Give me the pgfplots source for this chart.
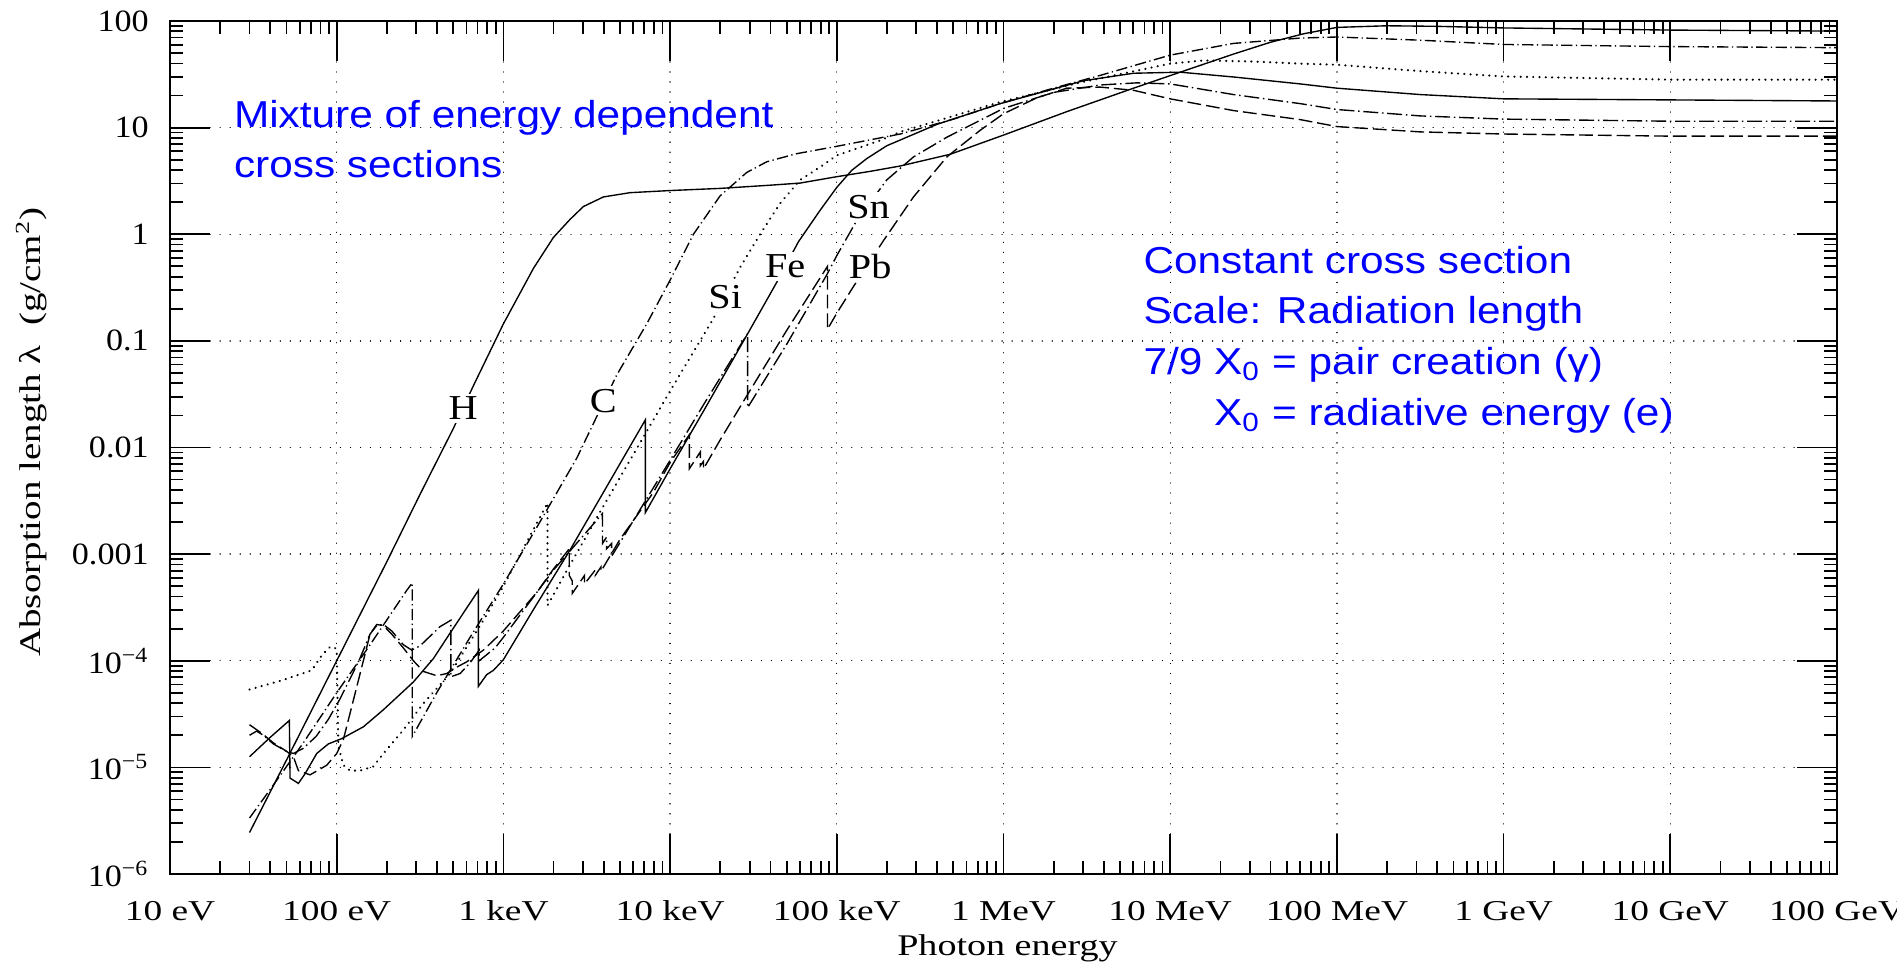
\documentclass[border=0pt]{standalone}
\usepackage{fontspec}
\setmainfont{Liberation Serif}
\newfontfamily\blsans{Liberation Sans}
\usepackage{graphicx}
\usepackage{pgfplots}
\pgfplotsset{compat=1.18}
\newcommand{\sx}[1]{\scalebox{1.3}[1]{#1}}
\newcommand{\sy}[1]{\scalebox{1.1}[1]{#1}}
\newcommand{\slab}[1]{\scalebox{1.15}[1]{#1}}
\newcommand{\sblue}[1]{\scalebox{1.13}[1]{#1}}
\begin{document}
\begin{tikzpicture}
\begin{axis}[
  name=ax, at={(0,0)}, anchor=south west,
  scale only axis, width=666.8pt, height=341.2pt,
  xmode=log, ymode=log,
  xmin=10, xmax=1e11, ymin=1e-6, ymax=100,
  xtick={1e1,1e2,1e3,1e4,1e5,1e6,1e7,1e8,1e9,1e10,1e11},
  xticklabels={\sx{10 eV},\sx{100 eV},\sx{1 keV},\sx{10 keV},\sx{100 keV},\sx{1 MeV},\sx{10 MeV},\sx{100 MeV},\sx{1 GeV},\sx{10 GeV},\sx{100 GeV}},
  ytick={1e-6,1e-5,1e-4,1e-3,1e-2,1e-1,1,10,100},
  yticklabels={\sy{10\textsuperscript{−6}},\sy{10\textsuperscript{−5}},\sy{10\textsuperscript{−4}},\sy{0.001},\sy{0.01},\sy{0.1},\sy{1},\sy{10},\sy{100}},
  xticklabel style={font=\fontsize{11.5}{13}\selectfont, anchor=base, yshift=-18.5pt},
  yticklabel style={font=\fontsize{12.4}{14}\selectfont, anchor=east, xshift=-5pt},
  tick align=inside,
  major tick length=16pt, minor tick length=5.3pt,
  every tick/.style={black, solid, line width=0.7pt},
  axis line style={line width=0.85pt},
  grid=major,
  major grid style={black, line width=0.55pt, line cap=round, dash pattern=on 0.01pt off 4pt},
]
% explicit tick marks on all four sides
\tikzset{tk/.style={black, solid, line width=0.7pt}}
\pgfplotsinvokeforeach{1e2,1e3,1e4,1e5,1e6,1e7,1e8,1e9,1e10}{
  \draw[tk] (axis cs:#1,1e-6) -- ++(0pt,16pt);
  \draw[tk] (axis cs:#1,100) -- ++(0pt,-16pt);
}
\pgfplotsinvokeforeach{20,30,40,50,60,70,80,90,200,300,400,500,600,700,800,900,
    2e3,3e3,4e3,5e3,6e3,7e3,8e3,9e3,2e4,3e4,4e4,5e4,6e4,7e4,8e4,9e4,
    2e5,3e5,4e5,5e5,6e5,7e5,8e5,9e5,2e6,3e6,4e6,5e6,6e6,7e6,8e6,9e6,
    2e7,3e7,4e7,5e7,6e7,7e7,8e7,9e7,2e8,3e8,4e8,5e8,6e8,7e8,8e8,9e8,
    2e9,3e9,4e9,5e9,6e9,7e9,8e9,9e9,2e10,3e10,4e10,5e10,6e10,7e10,8e10,9e10}{
  \draw[tk] (axis cs:#1,1e-6) -- ++(0pt,5.3pt);
  \draw[tk] (axis cs:#1,100) -- ++(0pt,-5.3pt);
}
\pgfplotsinvokeforeach{1e-5,1e-4,1e-3,1e-2,1e-1,1,10}{
  \draw[tk] (axis cs:10,#1) -- ++(16pt,0pt);
  \draw[tk] (axis cs:1e11,#1) -- ++(-16pt,0pt);
}
\pgfplotsinvokeforeach{2e-6,3e-6,4e-6,5e-6,6e-6,7e-6,8e-6,9e-6,2e-5,3e-5,4e-5,5e-5,6e-5,7e-5,8e-5,9e-5,
    2e-4,3e-4,4e-4,5e-4,6e-4,7e-4,8e-4,9e-4,2e-3,3e-3,4e-3,5e-3,6e-3,7e-3,8e-3,9e-3,
    0.02,0.03,0.04,0.05,0.06,0.07,0.08,0.09,0.2,0.3,0.4,0.5,0.6,0.7,0.8,0.9,
    2,3,4,5,6,7,8,9,20,30,40,50,60,70,80,90}{
  \draw[tk] (axis cs:10,#1) -- ++(5.3pt,0pt);
  \draw[tk] (axis cs:1e11,#1) -- ++(-5.3pt,0pt);
}
% H
\addplot[black, line width=0.55pt] coordinates {
(30,2.45e-6) (50.1,1.18e-5) (100,1.0e-4) (200,8.51e-4) (316,3.63e-3) (501,1.51e-2)
(661,3.80e-2) (1000,0.1445) (1514,0.4786) (1995,0.933) (2512,1.380) (3020,1.820)
(3981,2.239) (5754,2.455) (1e4,2.570) (1.995e4,2.692) (3.981e4,2.884) (6.026e4,3.020)
(1e5,3.467) (1.585e5,3.890) (2.399e5,4.365) (4.786e5,5.623) (1e6,8.511) (2.399e6,14.13)
(6.026e6,23.44) (1.148e7,33.11) (2.399e7,48.98) (3.981e7,63.10) (6.310e7,75.86)
(1e8,87.1) (1.995e8,90.2) (3.981e8,89.13) (1e9,86.1) (1e10,82.2) (1e11,80.4)
};
% C
\addplot[black, line width=0.55pt, dash pattern=on 4.5pt off 1.4pt on 0.5pt off 1.4pt] coordinates {
(30,3.35e-6) (39.8,6.17e-6) (63.1,1.70e-5) (100,5.01e-5) (158.5,1.41e-4) (263,4.57e-4)
(284,5.37e-4) (284,1.95e-5) (398,5.01e-5) (631,1.66e-4) (1000,5.25e-4) (1585,1.78e-3)
(2754,7.94e-3) (4786,4.79e-2) (7244,0.1445) (1e4,0.3715) (1.380e4,1.0) (1.995e4,2.291)
(2.884e4,3.802) (3.802e4,4.786) (5.754e4,5.70) (1e5,6.68) (2.399e5,8.71) (5.012e5,12.02)
(9.55e5,16.79) (1.995e6,23.44) (3.802e6,30.90) (1e7,47.86) (2.399e7,61.66) (6.026e7,69.18)
(1e8,70.79) (3.162e8,66.07) (1e9,60.26) (1e10,57.54) (1e11,56.23)
};
% Si
\addplot[black, line width=0.95pt, line cap=round, dash pattern=on 0.01pt off 2.5pt] coordinates {
(30,5.37e-5) (47.9,6.61e-5) (70.8,8.13e-5) (81.3,1.12e-4) (91.2,1.35e-4) (97.7,1.32e-4)
(100,1.26e-4) (102.3,1.585e-5) (109.6,1.05e-5) (120.2,9.33e-6) (138,9.33e-6) (166,1.02e-5)
(190.5,1.35e-5) (251,2.24e-5) (331,3.98e-5) (479,7.59e-5) (759,2.40e-4) (1000,5.01e-4)
(1840,3.02e-3) (1840,3.31e-4) (2512,7.94e-4) (3981,2.82e-3) (1e4,3.39e-2) (1.82e4,0.1622)
(2.63e4,0.4898) (3.467e4,1.0) (4.571e4,1.950) (6.026e4,3.236) (7.943e4,4.266) (1e5,5.495)
(1.82e5,7.586) (2.399e5,9.12) (9.55e5,17.38) (3.02e6,26.92) (1e7,39.81) (1.585e7,42.66)
(3.162e7,41.69) (6.026e7,39.81) (1e8,38.90) (3.162e8,33.88) (1e9,30.20) (1e10,28.18) (1e11,28.18)
};
% Fe
\addplot[black, line width=0.55pt] coordinates {
(30,1.259e-5) (39.8,1.905e-5) (52,2.754e-5) (52.5,7.94e-6) (58.9,7.08e-6) (64.6,8.71e-6)
(75.9,1.35e-5) (89.1,1.66e-5) (107,1.86e-5) (144.5,2.40e-5) (190.5,3.47e-5) (288,6.31e-5)
(380,1.047e-4) (479,1.82e-4) (708,4.57e-4) (708,5.75e-5) (794,7.41e-5) (871,8.13e-5)
(1000,1.023e-4) (1514,3.02e-4) (2512,1.096e-3) (3981,3.80e-3) (7112,1.82e-2) (7112,2.455e-3)
(1e4,6.31e-3) (1.585e4,2.19e-2) (2.951e4,0.1202) (4.365e4,0.3548) (5.888e4,0.8511)
(7.943e4,1.679) (1e5,2.754) (1.23e5,3.981) (1.514e5,5.129) (1.995e5,6.761) (3.981e5,10.72)
(9.55e5,16.79) (3.02e6,27.54) (6.026e6,32.36) (1.148e7,33.11) (2.399e7,29.85) (6.026e7,25.70)
(1e8,23.44) (3.162e8,20.42) (1e9,18.62) (1e10,18.20) (1e11,17.78)
};
% Sn
\addplot[black, line width=0.55pt, dash pattern=on 6pt off 1.5pt on 0.6pt off 1.5pt] coordinates {
(30,2.0e-5) (33.1,2.19e-5) (36.3,2.0e-5) (41.7,1.66e-5) (50.1,1.41e-5) (55,1.35e-5)
(63.1,1.51e-5) (75.2,1.95e-5) (89.1,2.82e-5) (103.7,4.27e-5) (120.2,6.76e-5) (136.8,1.023e-4)
(158.5,1.778e-4) (173.8,2.138e-4) (190.5,2.188e-4) (213.8,1.905e-4) (251.2,1.413e-4)
(281.8,1.259e-4) (316.2,1.38e-4) (363.1,1.698e-4) (416.9,2.089e-4) (484,2.40e-4) (484,7.08e-5)
(549.5,7.59e-5) (631,9.55e-5) (716,1.259e-4) (716,1.0e-4) (891,1.318e-4) (1000,1.66e-4)
(1995,7.08e-4) (3927,2.40e-3) (3930,1.259e-3) (4160,1.445e-3) (4160,1.122e-3) (4460,1.259e-3)
(4460,9.55e-4) (1e4,7.59e-3) (1.585e4,2.512e-2) (2.92e4,0.1175) (2.92e4,2.37e-2)
(5.012e4,9.33e-2) (8.71e4,0.4169) (1e5,0.631) (1.318e5,1.349) (1.995e5,3.236) (2.884e5,5.31)
(4.571e5,8.128) (1e6,15.14) (1.995e6,21.38) (3.802e6,25.12) (6.31e6,26.30) (1e7,25.70)
(2.399e7,20.42) (6.026e7,16.79) (1e8,14.79) (3.162e8,12.88) (1e9,12.02) (1e10,11.48) (1e11,11.48)
};
% Pb
\addplot[black, line width=0.55pt, dash pattern=on 5.5pt off 2pt] coordinates {
(30,2.512e-5) (35.5,2.089e-5) (41.7,1.698e-5) (50.1,1.413e-5) (55,1.259e-5) (58.9,9.33e-6)
(69.2,8.51e-6) (87.1,1.047e-5) (100,1.349e-5) (109.6,1.82e-5) (125.9,4.27e-5) (144.5,1.0e-4)
(158.5,1.778e-4) (173.8,2.188e-4) (190.5,2.138e-4) (213.8,1.778e-4) (251.2,1.318e-4)
(288.4,1.0e-4) (331.1,7.94e-5) (398.1,7.24e-5) (457.1,7.59e-5) (524.8,8.71e-5) (602.6,9.77e-5)
(758.6,1.259e-4) (1000,1.905e-4) (1585,4.365e-4) (1995,7.24e-4) (2484,1.122e-3) (2484,6.31e-4)
(2586,5.62e-4) (2586,4.266e-4) (3066,6.31e-4) (3066,5.25e-4) (3554,7.08e-4) (3554,6.31e-4)
(3851,7.59e-4) (3851,6.92e-4) (5012,1.38e-3) (7943,3.80e-3) (1e4,7.24e-3) (13040,1.318e-2)
(13040,6.31e-3) (15200,9.12e-3) (15200,6.76e-3) (15860,7.41e-3) (15860,6.31e-3) (1.995e4,1.175e-2)
(2.951e4,3.236e-2) (5.012e4,0.1259) (88000,0.5012) (88000,0.1288) (1e5,0.182) (1.259e5,0.3236)
(1.905e5,0.871) (2.884e5,2.239) (4.571e5,5.31) (7.244e5,9.44) (1e6,13.49) (1.585e6,19.05)
(2.399e6,23.44) (3.802e6,23.99) (6.026e6,22.39) (1e7,18.62) (2.399e7,14.45) (6.026e7,11.89)
(1e8,10.23) (3.162e8,9.12) (1e9,8.71) (1e10,8.32) (1e11,8.32)
};
% curve labels
\tikzset{clab/.style={fill=white, inner sep=1.2pt, font=\fontsize{14}{14}\selectfont}}
\node[clab] at (axis cs:573,2.33e-2) {\slab{H}};
\node[clab] at (axis cs:3981,2.75e-2) {\slab{C}};
\node[clab] at (axis cs:2.14e4,0.257) {\slab{Si}};
\node[clab] at (axis cs:4.9e4,0.50) {\slab{Fe}};
\node[clab] at (axis cs:1.55e5,1.80) {\slab{Sn}};
\node[clab] at (axis cs:1.585e5,0.50) {\slab{Pb}};
\end{axis}
% axis labels
\node[anchor=base] at ([xshift=335pt,yshift=-32.7pt]ax.south west) {\fontsize{12}{14}\selectfont\scalebox{1.27}[1]{Photon energy}};
\node[rotate=90, anchor=center] at ([xshift=-55.5pt,yshift=176.8pt]ax.south west) {\fontsize{12}{14}\selectfont\scalebox{1.3}[1]{Absorption length λ \ (g/cm\textsuperscript{2})}};
% blue texts
\begin{scope}[every node/.style={anchor=base west, inner sep=0pt, text=blue, font=\blsans\fontsize{15}{18}\selectfont}]
\node at ([xshift=25.4pt,yshift=298.4pt]ax.south west) {\sblue{Mixture of energy dependent}};
\node at ([xshift=25.4pt,yshift=278.4pt]ax.south west) {\sblue{cross sections}};
\node at ([xshift=389.2pt,yshift=240.2pt]ax.south west) {\sblue{Constant cross section}};
\node at ([xshift=389.2pt,yshift=220.0pt]ax.south west) {\sblue{Scale: Radiation length}};
\node at ([xshift=389.2pt,yshift=199.6pt]ax.south west) {\sblue{7/9 X\textsubscript{0} = pair creation (γ)}};
\node at ([xshift=389.2pt,yshift=179.2pt]ax.south west) {\sblue{\phantom{7/9 }X\textsubscript{0} = radiative energy (e)}};
\end{scope}
\pgfresetboundingbox
\path[use as bounding box] ([xshift=-68pt,yshift=-38.4pt]ax.south west) rectangle ([xshift=24pt,yshift=8.4pt]ax.north east);
\end{tikzpicture}
\end{document}
